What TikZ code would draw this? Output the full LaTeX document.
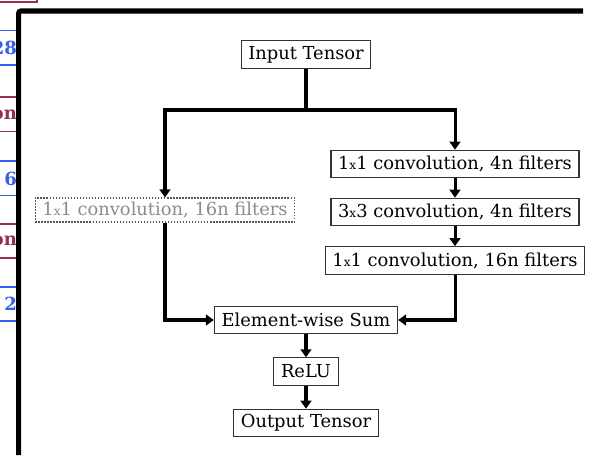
\documentclass[tikz,border=0pt]{standalone}
\usepackage{fontspec}
\setmainfont{DejaVu Serif}
\usetikzlibrary{arrows.meta}
\definecolor{edgeblue}{RGB}{55,95,235}
\definecolor{edgered}{RGB}{150,45,85}
\tikzset{
  layer/.style={draw=black!80, line width=1.2pt, fill=white, inner xsep=0.25cm,
    inner ysep=0pt, minimum height=0.96cm, font=\fontsize{17.8}{20}\selectfont},
  shortcut/.style={layer, draw=black!65, text=black!45, dash pattern=on 1.5pt off 1.5pt,
    minimum height=0.84cm},
  flow/.style={line width=3pt, draw=black, -{Triangle[length=0.28cm,width=0.38cm]}},
  trunk/.style={line width=3pt, draw=black},
  frame/.style={line width=5pt, draw=black, rounded corners=2pt},
  cutline/.style={line width=1.6pt},
  cuttext/.style={font=\bfseries\fontsize{18}{20}\selectfont, anchor=east, inner sep=0pt},
}
\newcommand{\by}{{\fontsize{12}{13}\selectfont x}}

\begin{document}
\begin{tikzpicture}
\useasboundingbox (0,0) rectangle (20.755,15.925);
% boxes cut off at the left edge
\draw[edgered, cutline] (0,15.86) -- (1.3,15.86) -- (1.3,15.925);
\begin{scope}
\clip (0,0) rectangle (0.56,15.925);
\foreach \yc/\col/\txt [count=\i] in {14.26/edgeblue/28, 11.92/edgered/on, 9.68/edgeblue/6,
    7.49/edgered/on, 5.29/edgeblue/2}{
  \draw[\col, cutline] (0,\yc+0.6) -- (0.56,\yc+0.6);
  \draw[\col, cutline] (0,\yc-0.6) -- (0.56,\yc-0.6);
  \node[cuttext, text=\col] (cut\i) at (0.6,\yc) {\txt};
}
\end{scope}
\draw[frame] (0.655,0) -- (0.655,15.54) -- (20.405,15.54);

% bottleneck block
\node[layer] (input) at (10.71,14.02) {Input Tensor};
\node[shortcut] (proj) at (5.775,8.575) {1\by1 convolution, 16n filters};
\node[layer] (reduce) at (15.925,10.185) {1\by1 convolution, 4n filters};
\node[layer] (conv) at (15.925,8.505) {3\by3 convolution, 4n filters};
\node[layer] (expand) at (15.925,6.81) {1\by1 convolution, 16n filters};
\node[layer] (sum) at (10.71,4.725) {Element-wise Sum};
\node[layer] (relu) at (10.71,2.92) {ReLU};
\node[layer] (output) at (10.71,1.12) {Output Tensor};
\coordinate (split) at (10.71,12.075);

\draw[trunk] (input) -- (split);
\draw[flow] (split) -| (proj);
\draw[flow] (split) -| (reduce);
\draw[flow] (reduce) -- (conv);
\draw[flow] (conv) -- (expand);
\draw[flow] (proj) |- (sum);
\draw[flow] (expand) |- (sum);
\draw[flow] (sum) -- (relu);
\draw[flow] (relu) -- (output);
\end{tikzpicture}
\end{document}
